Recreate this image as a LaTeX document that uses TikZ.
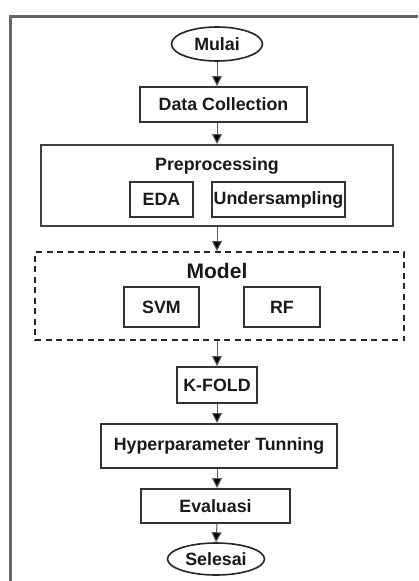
\documentclass[tikz,border=0pt]{standalone}
\usepackage{fontspec}
\setmainfont{Liberation Sans}
\usetikzlibrary{shapes.geometric,arrows.meta}
\begin{document}
\begin{tikzpicture}[x=1pt,y=-1pt,
  every node/.style={font=\fontsize{17.8}{20}\selectfont\bfseries, text=black!90},
  stepbox/.style={draw=black!80, line width=2pt, fill=white, inner sep=0pt},
  terminal/.style={draw=black!85, line width=1.6pt, ellipse, inner sep=0pt},
  group/.style={draw=black!75, line width=2pt, inner sep=0pt},
  dashgroup/.style={draw=black!85, line width=1.8pt, dash pattern=on 6pt off 4.5pt, inner sep=0pt},
  flow/.style={draw=black!65, line width=1pt, -{Triangle[length=10pt,width=10pt,fill=black]}}
]
% canvas
\path[use as bounding box, fill=white] (0,0) rectangle (418,581);
% page frame, cut at the right and bottom edges
\draw[black!60, line width=3pt] (10,581) -- (10,16) -- (418,16);

% start / end
\node[terminal, minimum width=91pt, minimum height=34pt] (mulai) at (217,44) {Mulai};
\node[terminal, minimum width=97pt, minimum height=32pt] (selesai) at (216,559) {Selesai};

% main steps
\node[stepbox, minimum width=167pt, minimum height=35pt] (data) at (223.5,104.5) {Data Collection};

% preprocessing group
\node[group, minimum width=352pt, minimum height=81pt] (prep) at (217,185.5) {};
\node (preplbl) at (217,166) {Preprocessing};
\node[stepbox, minimum width=63pt, minimum height=35pt] (eda) at (161.5,199.5) {EDA};
\node[stepbox, minimum width=133pt, minimum height=35pt] (under) at (278.5,199.5) {Undersampling};

% model group
\node[dashgroup, minimum width=369pt, minimum height=88pt] (model) at (219.5,296) {};
\node[font=\fontsize{21}{24}\selectfont\bfseries] (modellbl) at (217,271) {Model};
\node[stepbox, minimum width=75pt, minimum height=40pt] (svm) at (161.5,307) {SVM};
\node[stepbox, minimum width=76pt, minimum height=40pt] (rf) at (282,307) {RF};

\node[stepbox, minimum width=80pt, minimum height=36pt] (kfold) at (217,385) {K-FOLD};
\node[stepbox, minimum width=236pt, minimum height=44pt] (hyper) at (219,446) {Hyperparameter Tunning};
\node[stepbox, minimum width=149pt, minimum height=34pt] (eval) at (215.5,506) {Evaluasi};

% connectors along the common axis under Mulai
\draw[flow] (mulai.south) -- (mulai.south |- data.north);
\draw[flow] (mulai.south |- data.south) -- (mulai.south |- prep.north);
\draw[flow] (mulai.south |- prep.south) -- (mulai.south |- model.north);
\draw[flow] (mulai.south |- model.south) -- (mulai.south |- kfold.north);
\draw[flow] (mulai.south |- kfold.south) -- (mulai.south |- hyper.north);
\draw[flow] (mulai.south |- hyper.south) -- (mulai.south |- eval.north);
\draw[flow] (mulai.south |- eval.south) -- (selesai.north);
\end{tikzpicture}
\end{document}
